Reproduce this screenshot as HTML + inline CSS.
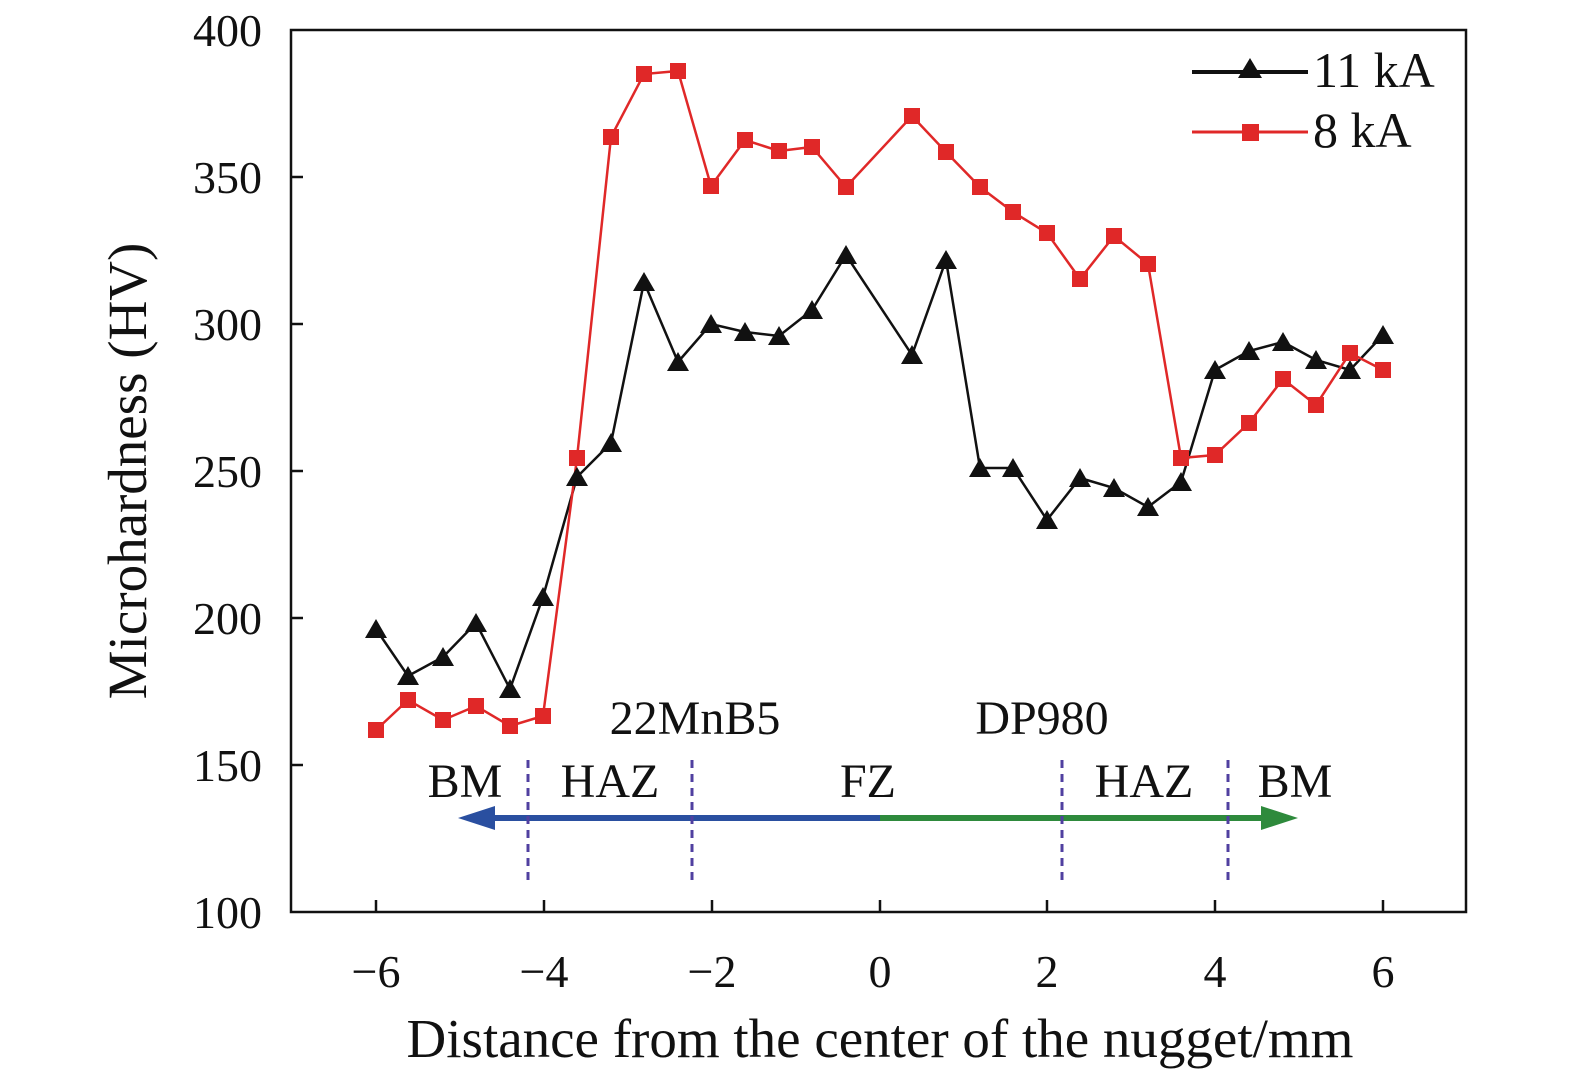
<!DOCTYPE html>
<html><head><style>body{margin:0;background:#fff}svg{display:block}text{font-family:"Liberation Serif",serif;fill:#111}</style></head><body>
<svg width="1575" height="1078" viewBox="0 0 1575 1078" xmlns="http://www.w3.org/2000/svg">
<rect x="291" y="30" width="1175" height="882" fill="none" stroke="#111" stroke-width="2.5"/>
<g stroke="#111" stroke-width="2.5">
<line x1="291" y1="177" x2="303" y2="177"/><line x1="291" y1="324" x2="303" y2="324"/><line x1="291" y1="471" x2="303" y2="471"/><line x1="291" y1="618" x2="303" y2="618"/><line x1="291" y1="765" x2="303" y2="765"/>
<line x1="376" y1="912" x2="376" y2="900"/><line x1="544" y1="912" x2="544" y2="900"/><line x1="712" y1="912" x2="712" y2="900"/><line x1="880" y1="912" x2="880" y2="900"/><line x1="1047" y1="912" x2="1047" y2="900"/><line x1="1215" y1="912" x2="1215" y2="900"/><line x1="1383" y1="912" x2="1383" y2="900"/>
</g>
<g font-size="46" text-anchor="end">
<text x="262" y="46">400</text><text x="262" y="193">350</text><text x="262" y="340">300</text><text x="262" y="487">250</text><text x="262" y="634">200</text><text x="262" y="781">150</text><text x="262" y="928">100</text>
</g>
<g font-size="46" text-anchor="middle">
<text x="376" y="987">−6</text><text x="544" y="987">−4</text><text x="712" y="987">−2</text><text x="880" y="987">0</text><text x="1047" y="987">2</text><text x="1215" y="987">4</text><text x="1383" y="987">6</text>
</g>
<g font-size="55" text-anchor="middle">
<text x="880" y="1057">Distance from the center of the nugget/mm</text>
<text transform="translate(146,471) rotate(-90)">Microhardness (HV)</text>
</g>
<g font-size="48" text-anchor="middle">
<text x="695" y="734">22MnB5</text><text x="1042" y="734">DP980</text>
<text x="465" y="797">BM</text><text x="610" y="797">HAZ</text><text x="868" y="797">FZ</text><text x="1144" y="797">HAZ</text><text x="1295" y="797">BM</text>
</g>
<line x1="490" y1="818" x2="880" y2="818" stroke="#2a4fa0" stroke-width="6"/>
<polygon points="458,818 495,806 495,830" fill="#2a4fa0"/>
<line x1="880" y1="818" x2="1265" y2="818" stroke="#2e8a3c" stroke-width="6"/>
<polygon points="1298,818 1261,806 1261,830" fill="#2e8a3c"/>
<g stroke="#5040a0" stroke-width="3" stroke-dasharray="8,6">
<line x1="528" y1="760" x2="528" y2="880"/><line x1="692" y1="760" x2="692" y2="880"/><line x1="1062" y1="760" x2="1062" y2="880"/><line x1="1228" y1="760" x2="1228" y2="880"/>
</g>
<polyline fill="none" stroke="#111" stroke-width="2.5" points="376,629 408,676 443,657 476,623 510,689 543,597 577,477 611,443 644,282 678,362 711,324 745,332 779,336 812,310 846,255 912,355 946,260 980,468 1013,468 1047,520 1080,478 1114,488 1148,507 1181,482 1215,370 1249,351 1283,342 1316,360 1350,370 1383,335"/>
<polyline fill="none" stroke="#e02828" stroke-width="2.5" points="376,730 408,700 443,720 476,706 510,726 543,716 577,458 611,137 644,74 678,71 711,186 745,140 779,151 812,147 846,187 912,116 946,152 980,187 1013,212 1047,233 1080,279 1114,236 1148,264 1181,458 1215,455 1249,423 1283,379 1316,405 1350,353 1383,370"/>
<g fill="#111">
<path d="M376,619l11,19h-22z M408,666l11,19h-22z M443,647l11,19h-22z M476,613l11,19h-22z M510,679l11,19h-22z M543,587l11,19h-22z M577,467l11,19h-22z M611,433l11,19h-22z M644,272l11,19h-22z M678,352l11,19h-22z M711,314l11,19h-22z M745,322l11,19h-22z M779,326l11,19h-22z M812,300l11,19h-22z M846,245l11,19h-22z M912,345l11,19h-22z M946,250l11,19h-22z M980,458l11,19h-22z M1013,458l11,19h-22z M1047,510l11,19h-22z M1080,468l11,19h-22z M1114,478l11,19h-22z M1148,497l11,19h-22z M1181,472l11,19h-22z M1215,360l11,19h-22z M1249,341l11,19h-22z M1283,332l11,19h-22z M1316,350l11,19h-22z M1350,360l11,19h-22z M1383,325l11,19h-22z"/>
</g>
<g fill="#e02828">
<path d="M368,722h16v16h-16z M400,692h16v16h-16z M435,712h16v16h-16z M468,698h16v16h-16z M502,718h16v16h-16z M535,708h16v16h-16z M569,450h16v16h-16z M603,129h16v16h-16z M636,66h16v16h-16z M670,63h16v16h-16z M703,178h16v16h-16z M737,132h16v16h-16z M771,143h16v16h-16z M804,139h16v16h-16z M838,179h16v16h-16z M904,108h16v16h-16z M938,144h16v16h-16z M972,179h16v16h-16z M1005,204h16v16h-16z M1039,225h16v16h-16z M1072,271h16v16h-16z M1106,228h16v16h-16z M1140,256h16v16h-16z M1173,450h16v16h-16z M1207,447h16v16h-16z M1241,415h16v16h-16z M1275,371h16v16h-16z M1308,397h16v16h-16z M1342,345h16v16h-16z M1375,362h16v16h-16z"/>
</g>
<line x1="1192" y1="72" x2="1308" y2="72" stroke="#111" stroke-width="4"/>
<path d="M1250,58l12,20h-24z" fill="#111"/>
<line x1="1192" y1="132" x2="1308" y2="132" stroke="#e02828" stroke-width="3"/>
<rect x="1242" y="124" width="17" height="17" fill="#e02828"/>
<g font-size="50"><text x="1313" y="87">11 kA</text><text x="1313" y="147">8 kA</text></g>
</svg>
</body></html>
